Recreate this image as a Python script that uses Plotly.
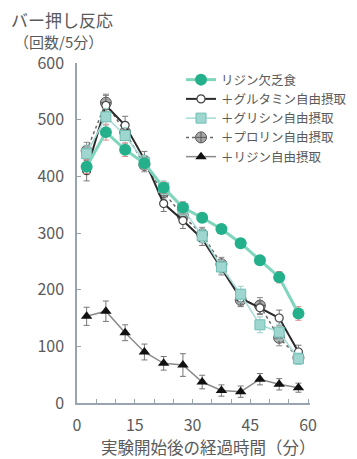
import plotly.graph_objects as go

time_min = [2.5, 7.5, 12.5, 17.5, 22.5, 27.5, 32.5, 37.5, 42.5, 47.5, 52.5, 57.5]

lys_deficient = [417, 478, 447, 423, 380, 345, 327, 307, 282, 252, 222, 158]
lys_deficient_err = [12, 14, 12, 10, 10, 10, 8, 8, 8, 8, 10, 12]

glutamine = [410, 525, 490, 430, 352, 322, 290, 238, 185, 168, 150, 90]
glutamine_err = [18, 18, 16, 14, 14, 14, 12, 12, 14, 12, 14, 12]

glycine = [440, 505, 472, 425, 380, 343, 295, 240, 192, 138, 125, 78]
glycine_err = [15, 15, 14, 12, 12, 12, 12, 12, 14, 14, 14, 10]

proline = [445, 530, 478, 420, 372, 330, 298, 245, 182, 172, 115, 80]
proline_err = [15, 15, 14, 12, 12, 12, 12, 12, 12, 14, 14, 12]

lysine = [153, 162, 124, 90, 70, 67, 37, 22, 20, 42, 33, 27]
lysine_err = [16, 18, 14, 14, 12, 20, 12, 10, 10, 10, 10, 8]

names = ["リジン欠乏食", "＋グルタミン自由摂取", "＋グリシン自由摂取", "＋プロリン自由摂取", "＋リジン自由摂取"]

x_ticks = [0, 5, 10, 15, 20, 25, 30, 35, 40, 45, 50, 55, 60]
x_ticktext = ["0", "", "", "15", "", "", "30", "", "", "45", "", "", "60"]
y_ticks = [0, 100, 200, 300, 400, 500, 600]

FONT = "Noto Sans CJK JP"
TXT = "#5a5a5a"

# page body has an 8px default margin
OFF = 8
W, H = 357 - OFF, 459 - OFF
L, T = 77 - OFF, 63 - OFF
R = 47
B = 459 - 403
PW = W - L - R
PH = H - T - B


def px_to_paper(px, py):
    # px, py in page (screenshot) coordinates
    return ((px - OFF) - L) / PW, (H - B - (py - OFF)) / PH


fig = go.Figure()

fig.add_trace(go.Scatter(
    x=time_min, y=proline, name=names[3], legendrank=4,
    mode="lines+markers",
    line=dict(color="#6a6a6a", width=1.5, dash="dot"),
    marker=dict(symbol="circle-cross", size=11, color="#a8a8a8", line=dict(color="#5a5a5a", width=1)),
    error_y=dict(type="data", array=proline_err, color="#8a8a8a", thickness=1, width=3),
))
fig.add_trace(go.Scatter(
    x=time_min, y=glutamine, name=names[1], legendrank=2,
    mode="lines+markers",
    line=dict(color="#2a2a2a", width=2),
    marker=dict(symbol="circle", size=8, color="white", line=dict(color="#444444", width=1.2)),
    error_y=dict(type="data", array=glutamine_err, color="#777777", thickness=1, width=3),
))
fig.add_trace(go.Scatter(
    x=time_min, y=glycine, name=names[2], legendrank=3,
    mode="lines+markers",
    line=dict(color="#a6dcd6", width=1.5),
    marker=dict(symbol="square", size=10, color="#9fd6cf", line=dict(color="#6fbfb5", width=1)),
    error_y=dict(type="data", array=glycine_err, color="#9fcfc9", thickness=1, width=3),
))
fig.add_trace(go.Scatter(
    x=time_min, y=lys_deficient, name=names[0], legendrank=1,
    mode="lines+markers",
    line=dict(color="#7fd6bd", width=3),
    marker=dict(symbol="circle", size=12, color="#25b08c", line=dict(width=0)),
    error_y=dict(type="data", array=lys_deficient_err, color="#e08a8a", thickness=1, width=3),
))
fig.add_trace(go.Scatter(
    x=time_min, y=lysine, name=names[4], legendrank=5,
    mode="lines+markers",
    line=dict(color="#8a8a8a", width=1.5),
    marker=dict(symbol="triangle-up", size=10, color="#111111", line=dict(width=0)),
    error_y=dict(type="data", array=lysine_err, color="#777777", thickness=1, width=3),
))

lx, ly = px_to_paper(181, 65)
t1x, t1y = px_to_paper(9, 19.5)
t2x, t2y = px_to_paper(12, 41)
xtx, xty = px_to_paper(208, 447)

fig.update_layout(
    width=W, height=H,
    margin=dict(l=L, r=R, t=T, b=B, autoexpand=False),
    paper_bgcolor="white", plot_bgcolor="white",
    font=dict(family=FONT, color=TXT, size=15),
    showlegend=True,
    legend=dict(
        x=lx, y=ly, xanchor="left", yanchor="top",
        bgcolor="rgba(0,0,0,0)", borderwidth=0,
        font=dict(family=FONT, size=12.5, color=TXT),
        tracegroupgap=0, itemwidth=30,
    ),
    xaxis=dict(
        range=[0, 60.5], tickmode="array", tickvals=x_ticks, ticktext=x_ticktext,
        ticks="inside", ticklen=4, tickcolor="#9aa3b0", tickwidth=1,
        showline=True, linecolor="#9aa3b0", linewidth=1.5,
        showgrid=False, zeroline=False,
        tickfont=dict(size=16, color=TXT), ticklabelstandoff=7,
    ),
    yaxis=dict(
        range=[0, 600], tickmode="array", tickvals=y_ticks,
        ticks="inside", ticklen=4, tickcolor="#9aa3b0", tickwidth=1,
        showline=True, linecolor="#9aa3b0", linewidth=1.5,
        showgrid=False, zeroline=False,
        tickfont=dict(size=16, color=TXT), ticklabelstandoff=8,
    ),
    annotations=[
        dict(text="バー押し反応", x=t1x, y=t1y, xref="paper", yref="paper", showarrow=False,
             font=dict(size=17, color=TXT, family=FONT), xanchor="left", yanchor="middle"),
        dict(text="（回数/5分）", x=t2x, y=t2y, xref="paper", yref="paper", showarrow=False,
             font=dict(size=15, color=TXT, family=FONT), xanchor="left", yanchor="middle"),
        dict(text="実験開始後の経過時間（分）", x=xtx, y=xty, xref="paper", yref="paper", showarrow=False,
             font=dict(size=16.5, color=TXT, family=FONT), xanchor="center", yanchor="middle"),
    ],
)

fig.write_html("out.html")
